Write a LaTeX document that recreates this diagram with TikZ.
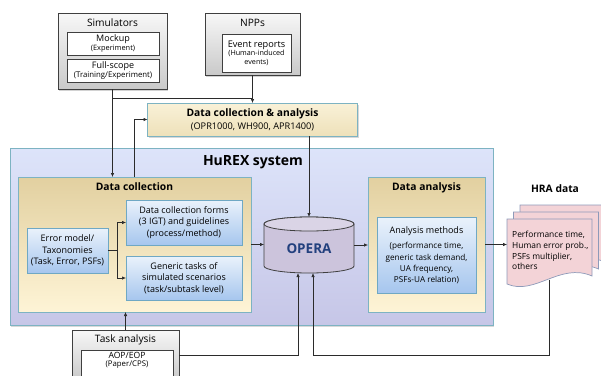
\documentclass[tikz,border=0pt]{standalone}
\usepackage{fontspec}
\setmainfont{Open Sans}
\usetikzlibrary{arrows.meta,shadows}

\definecolor{boxedge}{HTML}{3F3F3F}
\definecolor{tealedge}{HTML}{7DB3C2}
\definecolor{blueedge}{HTML}{6FA8C4}
\definecolor{linecol}{HTML}{2B2B2B}
\definecolor{creamTop}{HTML}{F9F1D8}
\definecolor{creamBot}{HTML}{EEE1B9}
\definecolor{tanTop}{HTML}{E2D0A0}
\definecolor{tanBot}{HTML}{FEF4D6}
\definecolor{blueTop}{HTML}{EAF2FB}
\definecolor{blueBot}{HTML}{A6C6EE}
\definecolor{hurexTop}{HTML}{DDE4FA}
\definecolor{hurexBot}{HTML}{C6C6E7}
\definecolor{operaBody}{HTML}{CCC4DC}
\definecolor{operaTop}{HTML}{DAD4E6}
\definecolor{operaText}{HTML}{22407E}
\definecolor{pageFill}{HTML}{F3D3D7}
\definecolor{pageEdge}{HTML}{8D9AB9}

\newcommand\fbody{\fontsize{9}{11.3}\selectfont}
\newcommand\ftitle{\fontsize{10.2}{12}\selectfont}
\newcommand\fbold{\fontsize{10.3}{12}\selectfont\bfseries}

\begin{document}
\begin{tikzpicture}[x=1pt,y=-1pt,
  box/.style={rectangle, inner sep=0pt, outer sep=0pt},
  graybox/.style={box, draw=boxedge, line width=0.9pt, top color=gray!6, bottom color=gray!42,
    drop shadow={shadow xshift=1.2pt, shadow yshift=-1.5pt, fill=black!35}},
  whitebox/.style={box, draw=boxedge, line width=0.6pt, fill=white, align=center},
  creambox/.style={box, draw=tealedge, line width=0.8pt, top color=creamTop, bottom color=creamBot,
    drop shadow={shadow xshift=1pt, shadow yshift=-1.5pt, fill=black!30}},
  tanbox/.style={box, draw=tealedge, line width=0.8pt, top color=tanTop, bottom color=tanBot,
    drop shadow={shadow xshift=1pt, shadow yshift=-1.2pt, fill=black!25}},
  bluebox/.style={box, draw=blueedge, line width=0.7pt, top color=blueTop, bottom color=blueBot,
    align=center, font=\fbody,
    drop shadow={shadow xshift=1pt, shadow yshift=-1.2pt, fill=black!22}},
  hurexbox/.style={box, draw=tealedge, line width=0.8pt, top color=hurexTop, bottom color=hurexBot,
    drop shadow={shadow xshift=1pt, shadow yshift=-1.5pt, fill=black!30}},
  label/.style={inner sep=0pt, align=center},
  conn/.style={draw=linecol, line width=0.6pt},
  arr/.style={conn, -{Latex[length=4pt,width=3.4pt]}},
  page/.style={fill=pageFill, draw=pageEdge, line width=0.7pt}
]
\useasboundingbox (0,0) rectangle (601,375);
\clip (0,0) rectangle (601,375);

% ---- sources ----
\node[graybox, minimum width=109pt, minimum height=76pt] (sim) at (112.5,51) {};
\node[label, font=\ftitle] (simT) at (112.5,23) {Simulators};
\node[whitebox, minimum width=92pt, minimum height=23pt, font=\fontsize{7.4}{8.6}\selectfont] (mock) at (113,43.5)
  {{\fontsize{9}{9}\selectfont Mockup}\\(Experiment)};
\node[whitebox, minimum width=92pt, minimum height=23pt, font=\fontsize{7.8}{8.6}\selectfont] (full) at (113,70.5)
  {{\fontsize{9}{9}\selectfont Full-scope}\\(Training/Experiment)};

\node[graybox, minimum width=95pt, minimum height=62pt] (npp) at (252.5,44) {};
\node[label, font=\ftitle] (nppT) at (252.5,23) {NPPs};
\node[whitebox, minimum width=69pt, minimum height=38pt, font=\fontsize{7.2}{8.4}\selectfont] (evt) at (256.5,53)
  {{\fontsize{9.2}{9.2}\selectfont Event reports}\\(Human-induced\\events)};

\node[creambox, minimum width=210pt, minimum height=33pt] (dca) at (252.5,119.5) {};
\node[label, font=\fbold] (dcaT) at (252.5,113.5) {Data collection \& analysis};
\node[label, font=\fontsize{9.2}{11}\selectfont] (dcaS) at (252.5,127) {(OPR1000, WH900, APR1400)};

% ---- HuREX system ----
\node[hurexbox, minimum width=483pt, minimum height=177pt] (hurex) at (251.5,236.5) {};
\node[label, font=\fontsize{14}{16}\selectfont\bfseries] (hurexT) at (253,162) {HuREX system};

\node[tanbox, minimum width=233pt, minimum height=135pt] (dc) at (134.5,244.5) {};
\node[label, font=\fbold] (dcT) at (134.5,187) {Data collection};
\node[bluebox, minimum width=81pt, minimum height=45pt] (em) at (67.5,250.5)
  {Error model/\\Taxonomies\\(Task, Error, PSFs)};
\node[bluebox, minimum width=116pt, minimum height=45pt] (forms) at (184,222.5)
  {Data collection forms\\(3 IGT) and guidelines\\(process/method)};
\node[bluebox, minimum width=116pt, minimum height=44pt] (generic) at (184,278)
  {Generic tasks of\\simulated scenarios\\(task/subtask level)};

% OPERA database
\node[box, minimum width=90pt, minimum height=56pt] (opera) at (309,245) {};
\path[fill=operaBody, draw=boxedge, line width=0.8pt]
  (264,224) -- (264,266) arc[start angle=180, end angle=360, x radius=45pt, y radius=7pt]
  -- (354,224) arc[start angle=0, end angle=180, x radius=45pt, y radius=7pt] -- cycle;
\path[fill=operaTop, draw=boxedge, line width=0.8pt] (309,224) ellipse [x radius=45pt, y radius=7pt];
\node[label, font=\fontsize{13.5}{15}\selectfont\bfseries, text=operaText] (operaT) at (309,249) {OPERA};

\node[tanbox, minimum width=117pt, minimum height=135pt] (da) at (426.5,244.5) {};
\node[label, font=\fbold] (daT) at (426.5,188) {Data analysis};
\node[bluebox, minimum width=99pt, minimum height=76pt, font=\fontsize{8.2}{11.2}\selectfont] (am) at (426.5,255)
  {{\fontsize{9}{11}\selectfont Analysis methods}\\[4.5pt](performance time,\\generic task demand,\\UA frequency,\\PSFs-UA relation)};

% ---- HRA data (stacked documents) ----
\node[label, font=\fbold] (hraT) at (555,189) {HRA data};
\begin{scope}[shift={(13,-14)}]
  \path[page] (507,219) -- (592,219) -- (592,276) .. controls (560,262) and (535,296) .. (507,284) -- cycle;
\end{scope}
\begin{scope}[shift={(6.5,-7)}]
  \path[page] (507,219) -- (592,219) -- (592,276) .. controls (560,262) and (535,296) .. (507,284) -- cycle;
\end{scope}
\path[page] (507,219) -- (592,219) -- (592,276) .. controls (560,262) and (535,296) .. (507,284) -- cycle;
\node[box, minimum width=85pt, minimum height=64pt] (hra) at (549.5,251) {};
\node[label, anchor=west, align=left, font=\fontsize{8.4}{10.8}\selectfont] (hraTxt) at (512,250.5)
  {Performance time,\\Human error prob.,\\PSFs multiplier,\\others};
\coordinate (hraB) at (549,279.5);
\coordinate (hraL) at (549,355);

% ---- task analysis ----
\node[graybox, minimum width=107pt, minimum height=50pt] (ta) at (125.5,355) {};
\node[label, font=\ftitle] (taT) at (125.5,340) {Task analysis};
\node[whitebox, minimum width=92pt, minimum height=30pt] (aop) at (127,365) {};
\node[label, font=\fontsize{7.8}{8.2}\selectfont] (aopT) at (127,360)
  {{\fontsize{8.6}{8.6}\selectfont AOP/EOP}\\(Paper/CPS)};

% ---- connectors ----
\coordinate (j) at (252.5,98);
\draw[conn] (sim.south) |- (j);
\draw[arr] (npp.south) -- (dca.north);
\draw[arr] (sim.south) -- (sim.south |- dc.north);
\draw[arr] (dc.north) |- (dca.west);
\draw[arr] (dca.south -| opera.north) -- (opera.north);
\draw[arr] (em.east) -- ++(9,0) coordinate (emj) |- (forms.west);
\draw[arr] (emj) |- (generic.west);
\draw[arr] (dc.east) -- (dc.east -| opera.west);
\draw[arr] (opera.east) -- (opera.east -| da.west);
\draw[arr] (da.east) -- (da.east -| hra.west);
\draw[arr] (hraB) -- (hraL) -| ([xshift=4pt]opera.south);
\draw[arr] (ta.north) -- (ta.north |- dc.south);
\draw[arr] (ta.east) -| ([xshift=-11pt]opera.south);
\end{tikzpicture}
\end{document}
